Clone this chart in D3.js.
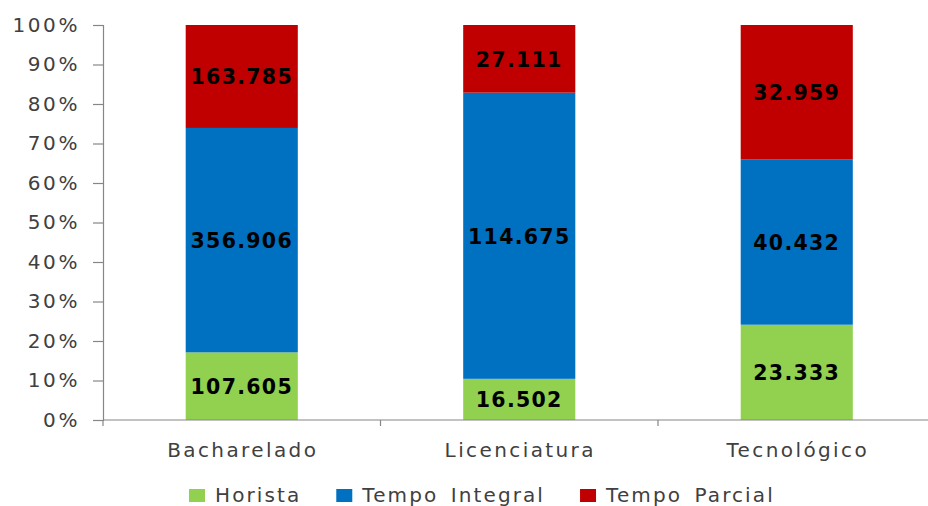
<!DOCTYPE html>
<html>
<head>
<meta charset="utf-8">
<script src="https://cdn.jsdelivr.net/npm/d3@7"></script>
<style>
  html, body { margin: 0; padding: 0; background: #fff; }
  svg { display: block; }
</style>
</head>
<body>
<svg id="chart" width="928" height="506"></svg>
<script>
const categories = ["Bacharelado", "Licenciatura", "Tecnológico"];
const seriesNames = ["Horista", "Tempo Integral", "Tempo Parcial"];
const horista = [107605, 16502, 23333];
const tempoIntegral = [356906, 114675, 40432];
const tempoParcial = [163785, 27111, 32959];
const valueLabels = [
  ["107.605", "16.502", "23.333"],
  ["356.906", "114.675", "40.432"],
  ["163.785", "27.111", "32.959"]
];
const yTickValues = [0, 0.1, 0.2, 0.3, 0.4, 0.5, 0.6, 0.7, 0.8, 0.9, 1];
const yTickLabels = ["0%", "10%", "20%", "30%", "40%", "50%", "60%", "70%", "80%", "90%", "100%"];
const colors = ["#92D050", "#0070C0", "#C00000"];

const seriesValues = [horista, tempoIntegral, tempoParcial];
const rows = categories.map((c, i) => {
  const r = { cat: c };
  seriesNames.forEach((s, j) => r[s] = seriesValues[j][i]);
  return r;
});
const stack = d3.stack().keys(seriesNames).offset(d3.stackOffsetExpand);
const stacked = stack(rows);

const svg = d3.select("#chart");
const x0 = 103, yTop = 25, yBottom = 420;
const x = d3.scaleBand().domain(categories).range([x0, x0 + 3 * 277.5]).padding(0);
const y = d3.scaleLinear().domain([0, 1]).range([yBottom, yTop]);
const barW = x.bandwidth() * 0.404;

const font = "'DejaVu Sans', Verdana, sans-serif";
const axisColor = "#868686";
const textColor = "#404040";

// Y axis
const yAxis = d3.axisLeft(y).tickValues(yTickValues)
  .tickFormat((d, i) => yTickLabels[i]).tickSize(10).tickPadding(0);
const gy = svg.append("g").attr("transform", `translate(${x0},0)`).call(yAxis);
gy.select(".domain").attr("stroke", axisColor).attr("stroke-width", 1.2);
gy.selectAll(".tick line").attr("stroke", axisColor).attr("stroke-width", 1.2);
gy.selectAll(".tick text")
  .attr("x", -23)
  .attr("fill", textColor)
  .style("font-family", font)
  .style("font-size", "20px")
  .style("letter-spacing", "2.6px");

// Bars
const groups = svg.append("g").selectAll("g").data(stacked).join("g")
  .attr("fill", (d, i) => colors[i]);
groups.selectAll("rect").data(d => d).join("rect")
  .attr("x", d => x(d.data.cat) + (x.bandwidth() - barW) / 2)
  .attr("width", barW)
  .attr("y", d => y(d[1]))
  .attr("height", d => y(d[0]) - y(d[1]));

// X axis
svg.append("line")
  .attr("x1", x0).attr("x2", 928).attr("y1", yBottom).attr("y2", yBottom)
  .attr("stroke", axisColor).attr("stroke-width", 1.2);
const boundaries = categories.map(c => x(c));
svg.append("g").selectAll("line").data(boundaries).join("line")
  .attr("x1", d => d).attr("x2", d => d)
  .attr("y1", yBottom).attr("y2", yBottom + 6)
  .attr("stroke", axisColor).attr("stroke-width", 1.2);
svg.append("g").selectAll("text").data(categories).join("text")
  .attr("x", d => x(d) + x.bandwidth() / 2 + 1)
  .attr("y", 457)
  .attr("text-anchor", "middle")
  .attr("fill", textColor)
  .style("font-family", font)
  .style("font-size", "20px")
  .style("letter-spacing", "2.4px")
  .text(d => d);

// Value labels
stacked.forEach((s, j) => {
  svg.append("g").selectAll("text").data(s).join("text")
    .attr("x", d => x(d.data.cat) + x.bandwidth() / 2)
    .attr("y", d => (y(d[0]) + y(d[1])) / 2 + 8)
    .attr("text-anchor", "middle")
    .attr("fill", "#000")
    .style("font-family", font)
    .style("font-weight", "bold")
    .style("font-size", "20.5px")
    .style("letter-spacing", "1.3px")
    .text((d, i) => valueLabels[j][i]);
});

// Legend
const legend = svg.append("g");
let lx = 189;
seriesNames.forEach((name, i) => {
  const g = legend.append("g");
  g.append("rect").attr("x", lx).attr("y", 489).attr("width", 16).attr("height", 13).attr("fill", colors[i]);
  const t = g.append("text").attr("x", lx + 26).attr("y", 502)
    .attr("fill", textColor)
    .style("font-family", font)
    .style("font-size", "20px")
    .style("letter-spacing", "2.1px")
    .style("word-spacing", "4px")
    .text(name);
  const w = t.node().getComputedTextLength();
  lx += 26 + w + 35;
});
</script>
</body>
</html>
